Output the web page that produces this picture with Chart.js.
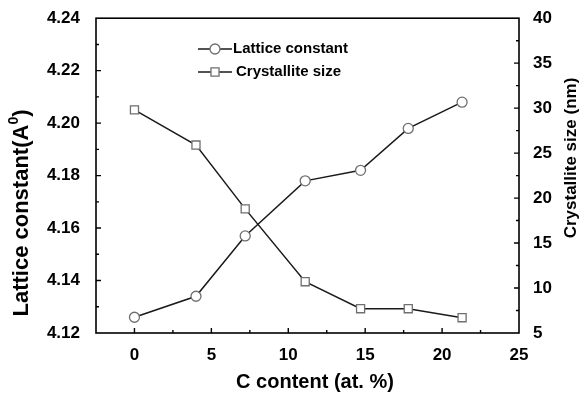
<!DOCTYPE html>
<html>
<head>
<meta charset="utf-8">
<script src="https://cdn.jsdelivr.net/npm/chart.js@4.4.1/dist/chart.umd.min.js"></script>
<style>
  html, body { margin: 0; padding: 0; background: #fff; }
  #wrap { width: 583px; height: 399px; }
</style>
</head>
<body>
<div id="wrap"><canvas id="chart"></canvas></div>
<script>
// C content (at. %) of each sample
var cContent = [0, 4.0, 7.2, 11.1, 14.7, 17.8, 21.3];
// lattice constant, left axis (A)
var latticeConst = [4.126, 4.134, 4.157, 4.178, 4.182, 4.198, 4.208];
// crystallite size, right axis (nm)
var crystalliteSize = [29.8, 25.9, 18.8, 10.7, 7.7, 7.7, 6.7];

var seriesNames = ['Lattice constant', 'Crystallite size'];
var xTitle = 'C content (at. %)';
var rightTitle = 'Crystallite size (nm)';

var FONT = '"Liberation Sans", Arial, Helvetica, sans-serif';
var LINE = '#1a1a1a';
var MARK = '#6f6f6f';

function toPoints(xs, ys) {
  var out = [];
  for (var i = 0; i < xs.length; i++) out.push({x: xs[i], y: ys[i]});
  return out;
}

function isMult(v, step) {
  var r = Math.abs(v / step - Math.round(v / step));
  return r < 1e-6;
}

// fixed axis sizes so the plot box lands where it should
function fixWidth(w) { return function(scale) { scale.width = w; }; }
function fixHeight(h) { return function(scale) { scale.height = h; }; }

// box frame, inward tick marks, axis titles and the legend
var framePlugin = {
  id: 'frame',
  afterDraw: function(chart) {
    var ctx = chart.ctx, a = chart.chartArea;
    var sx = chart.scales.x, sy = chart.scales.y, sy2 = chart.scales.y2;
    ctx.save();
    ctx.strokeStyle = '#000';
    ctx.lineWidth = 1.6;
    ctx.strokeRect(a.left, a.top, a.right - a.left, a.bottom - a.top);

    ctx.lineWidth = 1.4;
    ctx.beginPath();
    sy.ticks.forEach(function(t) {
      var y = sy.getPixelForValue(t.value);
      if (Math.abs(y - a.top) < 1 || Math.abs(y - a.bottom) < 1) return;
      var len = isMult(t.value, 0.02) ? 5 : 3;
      ctx.moveTo(a.left, y); ctx.lineTo(a.left + len, y);
    });
    sy2.ticks.forEach(function(t) {
      var y = sy2.getPixelForValue(t.value);
      if (Math.abs(y - a.top) < 1 || Math.abs(y - a.bottom) < 1) return;
      var len = isMult(t.value, 5) ? 5 : 3;
      ctx.moveTo(a.right, y); ctx.lineTo(a.right - len, y);
    });
    sx.ticks.forEach(function(t) {
      var x = sx.getPixelForValue(t.value);
      if (Math.abs(x - a.left) < 1 || Math.abs(x - a.right) < 1) return;
      var len = isMult(t.value, 5) ? 5 : 3;
      ctx.moveTo(x, a.bottom); ctx.lineTo(x, a.bottom - len);
    });
    ctx.stroke();

    // axis titles
    ctx.fillStyle = '#000';
    ctx.textBaseline = 'middle';
    ctx.textAlign = 'center';
    ctx.font = 'bold 20px ' + FONT;
    ctx.fillText(xTitle, 315, 382);

    // left title with superscript
    ctx.save();
    ctx.translate(22, 213);
    ctx.rotate(-Math.PI / 2);
    ctx.textAlign = 'left';
    var big = 'bold 22px ' + FONT, small = 'bold 14px ' + FONT;
    var p1 = 'Lattice constant(A', p2 = '0', p3 = ')';
    ctx.font = big; var w1 = ctx.measureText(p1).width, w3 = ctx.measureText(p3).width;
    ctx.font = small; var w2 = ctx.measureText(p2).width;
    var x0 = -(w1 + w2 + w3) / 2;
    ctx.font = big; ctx.fillText(p1, x0, 0);
    ctx.font = small; ctx.fillText(p2, x0 + w1, -8);
    ctx.font = big; ctx.fillText(p3, x0 + w1 + w2, 0);
    ctx.restore();

    // right title, reading upward
    ctx.save();
    ctx.translate(571, 158);
    ctx.rotate(-Math.PI / 2);
    ctx.font = 'bold 17px ' + FONT;
    ctx.fillText(rightTitle, 0, 0);
    ctx.restore();

    // legend inside the plot
    ctx.font = 'bold 15px ' + FONT;
    ctx.textAlign = 'left';
    var rows = [49, 72];
    chart.data.datasets.forEach(function(ds, i) {
      var y = rows[i];
      ctx.strokeStyle = ds.borderColor;
      ctx.lineWidth = ds.borderWidth;
      ctx.beginPath(); ctx.moveTo(198, y); ctx.lineTo(232, y); ctx.stroke();
      ctx.fillStyle = '#fff';
      ctx.strokeStyle = ds.pointBorderColor;
      ctx.lineWidth = ds.pointBorderWidth;
      ctx.beginPath();
      if (ds.pointStyle === 'rect') {
        var s = ds.pointRadius * Math.SQRT1_2;
        ctx.rect(215 - s, y - s, 2 * s, 2 * s);
      } else {
        ctx.arc(215, y, ds.pointRadius, 0, Math.PI * 2);
      }
      ctx.fill(); ctx.stroke();
      ctx.fillStyle = '#000';
      ctx.fillText(ds.label, i === 0 ? 233 : 236, y);
    });
    ctx.restore();
  }
};

var tickFont = {family: FONT, size: 17, weight: 'bold'};

new Chart(document.getElementById('chart'), {
  type: 'line',
  data: {
    datasets: [{
      label: seriesNames[0],
      data: toPoints(cContent, latticeConst),
      yAxisID: 'y',
      borderColor: LINE,
      borderWidth: 1.5,
      pointStyle: 'circle',
      pointRadius: 5,
      pointBorderColor: MARK,
      pointBorderWidth: 1.3,
      pointBackgroundColor: '#fff',
      tension: 0
    }, {
      label: seriesNames[1],
      data: toPoints(cContent, crystalliteSize),
      yAxisID: 'y2',
      borderColor: LINE,
      borderWidth: 1.5,
      pointStyle: 'rect',
      pointRadius: 5.7,
      pointBorderColor: MARK,
      pointBorderWidth: 1.3,
      pointBackgroundColor: '#fff',
      tension: 0
    }]
  },
  options: {
    responsive: true,
    maintainAspectRatio: false,
    animation: false,
    layout: {padding: {top: 16, left: 0, right: 0, bottom: 0}},
    plugins: {legend: {display: false}, tooltip: {enabled: false}},
    scales: {
      x: {
        type: 'linear', position: 'bottom',
        min: -2.5, max: 25,
        grid: {display: false}, border: {display: false},
        ticks: {
          stepSize: 2.5, autoSkip: false, maxRotation: 0,
          font: tickFont, color: '#000', padding: 4,
          callback: function(v) { return isMult(v, 5) ? String(Math.round(v)) : ''; }
        },
        afterFit: fixHeight(66)
      },
      y: {
        position: 'left',
        min: 4.12, max: 4.24,
        grid: {display: false}, border: {display: false},
        ticks: {
          stepSize: 0.01, autoSkip: false,
          font: tickFont, color: '#000', padding: 8,
          callback: function(v) { return isMult(v, 0.02) ? v.toFixed(2) : ''; }
        },
        afterFit: fixWidth(96)
      },
      y2: {
        position: 'right',
        min: 5, max: 40,
        grid: {display: false}, border: {display: false},
        ticks: {
          stepSize: 2.5, autoSkip: false,
          font: tickFont, color: '#000', padding: 6,
          callback: function(v) { return isMult(v, 5) ? String(Math.round(v)) : ''; }
        },
        afterFit: fixWidth(64)
      }
    }
  },
  plugins: [framePlugin]
});
</script>
</body>
</html>
